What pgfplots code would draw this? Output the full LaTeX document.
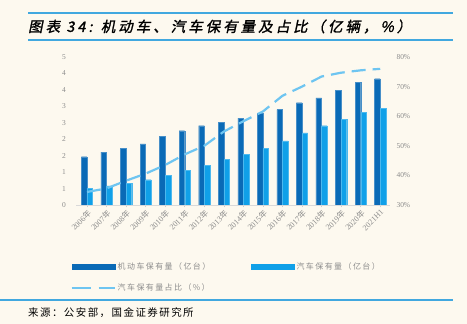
\documentclass[border=0pt]{standalone}
\usepackage{pgfplots}
\pgfplotsset{compat=1.18}
\usepackage{fontspec}
\setmainfont{Liberation Serif}
\newfontfamily\cjk{Noto Sans CJK SC}
\newfontfamily\cjkl[LetterSpace=18]{Noto Sans CJK SC}
\newfontfamily\cjks[LetterSpace=14]{Noto Sans CJK SC}
\newfontfamily\cjkb[FakeSlant=0.2,FakeBold=1.5,LetterSpace=21]{Noto Sans CJK SC}
\definecolor{bg}{HTML}{FDF9EF}
\definecolor{dark}{HTML}{0A6AB6}
\definecolor{light}{HTML}{10A0E8}
\definecolor{lineb}{HTML}{6EC5F1}
\definecolor{rule}{HTML}{41A8DF}
\definecolor{tickc}{HTML}{8C8C8C}
\begin{document}
\begin{tikzpicture}
\useasboundingbox (0bp,0bp) rectangle (467bp,324bp);
\fill[bg] (0bp,0bp) rectangle (467bp,324bp);
\draw[rule, line width=1.3bp] (28bp,311bp) -- (453bp,311bp);
\draw[rule, line width=1.3bp] (28bp,284bp) -- (453bp,284bp);
\node[anchor=west, inner sep=0] at (28bp,297.5bp) {\cjkb\fontsize{14.5}{14.5}\selectfont 图表 34: 机动车、汽车保有量及占比（亿辆，\%）};
\draw[rule, line width=1.3bp] (0bp,24bp) -- (453bp,24bp);
\node[anchor=west, inner sep=0] at (28bp,11bp) {\cjks\fontsize{10.5}{10.5}\selectfont 来源：公安部，国金证券研究所};
\begin{axis}[at={(76bp,119bp)}, anchor=south west, scale only axis, width=314bp, height=148bp,
  xmin=-0.56, xmax=15.5, ymin=0, ymax=4.5,
  ybar=0pt, bar width=5.6bp,
  axis x line*=bottom, axis y line*=left,
  y axis line style={draw=none}, ytick style={draw=none},
  x axis line style={draw=black!15, line width=0.8bp},
  xtick style={draw=black!20, line width=0.6bp},
  major tick length=2.5bp, tick align=outside,
  xtick={0,...,15},
  xticklabels={2006{\cjk 年},2007{\cjk 年},2008{\cjk 年},2009{\cjk 年},2010{\cjk 年},2011{\cjk 年},2012{\cjk 年},2013{\cjk 年},2014{\cjk 年},2015{\cjk 年},2016{\cjk 年},2017{\cjk 年},2018{\cjk 年},2019{\cjk 年},2020{\cjk 年},2021H1},
  x tick label style={rotate=45, anchor=north east, inner sep=1bp, font=\fontsize{8}{8}\selectfont, text=tickc},
  ytick={0,0.5,...,4.5},
  yticklabels={0,1,1,2,2,3,3,4,4,5},
  y tick label style={font=\fontsize{7.5}{7.5}\selectfont, text=tickc},
  yticklabel style={xshift=-4bp},
  legend columns=2,
  legend style={at={(axis description cs:-0.027,-0.36)}, anchor=north west, draw=none, fill=none,
    font=\cjkl\fontsize{8}{8}\selectfont, text=tickc, row sep=9bp,
    /tikz/every even column/.append style={column sep=39bp}},
  legend cell align=left,
]
\addplot[fill=dark, draw=dark!75!white, line width=0.3bp,
  legend image code/.code={\fill[dark] (0bp,-2.5bp) rectangle (43bp,2.5bp);}]
  coordinates {(0,1.47) (1,1.61) (2,1.72) (3,1.86) (4,2.08) (5,2.26) (6,2.41) (7,2.52) (8,2.64) (9,2.79) (10,2.90) (11,3.11) (12,3.26) (13,3.49) (14,3.73) (15,3.84)};
\addlegendentry{机动车保有量（亿台）}
\addplot[fill=light, draw=light!75!white, line width=0.3bp,
  legend image code/.code={\fill[light] (0bp,-2.5bp) rectangle (43bp,2.5bp);}]
  coordinates {(0,0.51) (1,0.58) (2,0.65) (3,0.77) (4,0.91) (5,1.06) (6,1.20) (7,1.38) (8,1.55) (9,1.72) (10,1.95) (11,2.19) (12,2.41) (13,2.60) (14,2.82) (15,2.93)};
\addlegendentry{汽车保有量（亿台）}
\addlegendimage{legend image code/.code={\draw[lineb, line width=2bp, dash pattern=on 19bp off 8bp] (0bp,0bp) -- (43bp,0bp);}}
\addlegendentry{汽车保有量占比（\%）}
\end{axis}
\begin{axis}[at={(76bp,119bp)}, anchor=south west, scale only axis, width=314bp, height=148bp,
  xmin=-0.56, xmax=15.5, ymin=30, ymax=80,
  axis x line=none, axis y line*=right,
  y axis line style={draw=none}, ytick style={draw=none},
  ytick={30,40,...,80},
  yticklabel={\pgfmathprintnumber{\tick}\%},
  /pgf/number format/assume math mode=true,
  y tick label style={font=\fontsize{7.5}{7.5}\selectfont, text=tickc},
  yticklabel style={xshift=3bp},
]
\addplot[lineb, line width=2.2bp, dash pattern=on 14bp off 7bp]
  coordinates {(0,34.4) (1,35.6) (2,38.2) (3,40.6) (4,43.5) (5,47.1) (6,50.0) (7,54.8) (8,58.3) (9,61.6) (10,66.9) (11,70.0) (12,73.4) (13,74.7) (14,75.5) (15,76.0)};
\end{axis}
\end{tikzpicture}
\end{document}
